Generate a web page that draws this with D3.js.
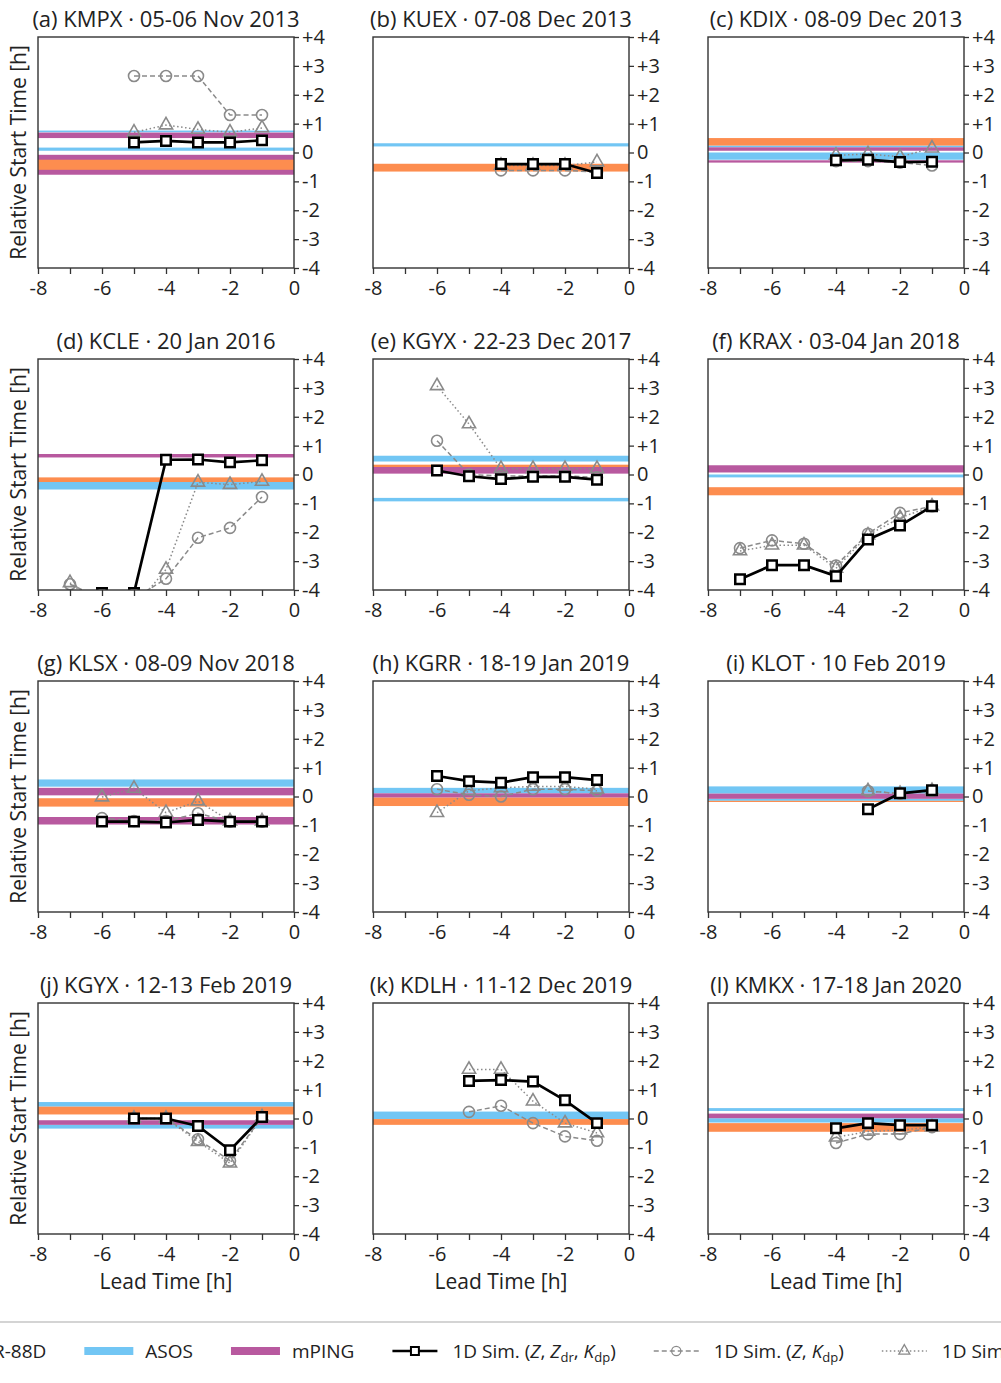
<!DOCTYPE html>
<html>
<head>
<meta charset="utf-8">
<script src="https://cdn.jsdelivr.net/npm/d3@7"></script>
<style>
  body { margin: 0; background: #fff; }
  text { font-family: "Open Sans", "Noto Sans", sans-serif; fill: #222; }
</style>
</head>
<body>
<svg id="chart" width="1001" height="1383"></svg>
<script>
// lead times shared by every panel (hours)
const leadTimes = [-7, -6, -5, -4, -3, -2, -1];

const panelTitles = [
  "(a) KMPX · 05-06 Nov 2013", "(b) KUEX · 07-08 Dec 2013", "(c) KDIX · 08-09 Dec 2013",
  "(d) KCLE · 20 Jan 2016", "(e) KGYX · 22-23 Dec 2017", "(f) KRAX · 03-04 Jan 2018",
  "(g) KLSX · 08-09 Nov 2018", "(h) KGRR · 18-19 Jan 2019", "(i) KLOT · 10 Feb 2019",
  "(j) KGYX · 12-13 Feb 2019", "(k) KDLH · 11-12 Dec 2019", "(l) KMKX · 17-18 Jan 2020"
];

// 1D Sim. (Z, Zdr, Kdp) - black squares
const simZZdrKdp = [
  [null, null, 0.35, 0.40, 0.35, 0.35, 0.42],
  [null, null, null, -0.40, -0.40, -0.40, -0.71],
  [null, null, null, -0.27, -0.25, -0.33, -0.32],
  [-4.6, -4.1, -4.1, 0.51, 0.52, 0.42, 0.49],
  [null, 0.14, -0.06, -0.16, -0.08, -0.08, -0.18],
  [-3.63, -3.14, -3.14, -3.52, -2.25, -1.77, -1.10],
  [null, -0.87, -0.87, -0.90, -0.81, -0.87, -0.87],
  [null, 0.71, 0.53, 0.48, 0.67, 0.67, 0.57],
  [null, null, null, null, -0.44, 0.11, 0.22],
  [null, null, 0.00, 0.00, -0.26, -1.10, 0.05],
  [null, null, 1.30, 1.33, 1.28, 0.63, -0.16],
  [null, null, null, -0.34, -0.16, -0.23, -0.23]
];

// 1D Sim. (Z, Kdp) - grey circles, dashed
const simZKdp = [
  [null, null, 2.65, 2.65, 2.65, 1.30, 1.30],
  [null, null, null, -0.62, -0.62, -0.62, -0.68],
  [null, null, null, -0.30, -0.30, -0.35, -0.45],
  [-3.80, -4.30, -4.30, -3.61, -2.19, -1.85, -0.78],
  [null, 1.17, 0.00, -0.05, -0.05, -0.05, -0.10],
  [-2.55, -2.28, -2.40, -3.15, -2.05, -1.33, -1.10],
  [null, -0.75, -0.85, -0.85, -0.58, -0.87, -0.87],
  [null, 0.25, 0.06, 0.00, 0.25, 0.25, 0.20],
  [null, null, null, null, 0.19, 0.10, 0.20],
  [null, null, 0.00, 0.00, -0.72, -1.46, 0.05],
  [null, null, 0.23, 0.44, -0.16, -0.62, -0.77],
  [null, null, null, -0.85, -0.54, -0.54, -0.30]
];

// 1D Sim. (Z, Zdr) - grey triangles, dotted
const simZZdr = [
  [null, null, 0.70, 0.95, 0.80, 0.70, 0.85],
  [null, null, null, -0.45, -0.45, -0.45, -0.33],
  [null, null, null, -0.10, -0.05, -0.15, 0.15],
  [-3.75, -4.60, -4.60, -3.29, -0.27, -0.35, -0.24],
  [null, 3.07, 1.75, 0.20, 0.20, 0.20, 0.20],
  [-2.65, -2.45, -2.45, -3.25, -2.10, -1.50, -1.10],
  [null, -0.02, 0.28, -0.56, -0.16, -0.85, -0.85],
  [null, -0.56, 0.20, 0.30, 0.35, 0.35, 0.25],
  [null, null, null, null, 0.19, 0.10, 0.20],
  [null, null, 0.00, 0.00, -0.80, -1.55, 0.05],
  [null, null, 1.70, 1.70, 0.60, -0.16, -0.50],
  [null, null, null, -0.65, -0.45, -0.40, -0.30]
];

// observed start-time windows [low, high] per panel
const asosBands = [
  [[0.70, 0.76], [0.06, 0.17]],
  [[0.21, 0.32]],
  [[0.18, 0.24], [-0.25, 0.00]],
  [[-0.52, -0.26]],
  [[0.45, 0.65], [-0.93, -0.81]],
  [[-0.10, 0.00]],
  [[0.34, 0.59]],
  [[0.11, 0.30]],
  [[0.10, 0.35], [-0.15, -0.08]],
  [[0.41, 0.57], [-0.35, -0.22]],
  [[-0.02, 0.24]],
  [[0.26, 0.36], [-0.14, 0.01]]
];
const mpingBands = [
  [[0.50, 0.69], [-0.77, -0.08]],
  [],
  [[0.06, 0.18], [-0.35, -0.27]],
  [[0.59, 0.71]],
  [[0.03, 0.26]],
  [[0.07, 0.32]],
  [[0.04, 0.30], [-0.97, -0.71]],
  [[-0.04, 0.11]],
  [[-0.08, 0.10]],
  [[-0.22, -0.06]],
  [],
  [[0.01, 0.17]]
];
const wsrBands = [
  [[-0.60, -0.25]],
  [[-0.66, -0.39]],
  [[0.24, 0.50]],
  [[-0.26, -0.10]],
  [[0.26, 0.34]],
  [[-0.72, -0.44]],
  [[-0.35, -0.06]],
  [[-0.33, -0.04]],
  [[-0.19, -0.15]],
  [[0.14, 0.41]],
  [[-0.22, -0.02]],
  [[-0.46, -0.16]]
];

const yTicks = [-4, -3, -2, -1, 0, 1, 2, 3, 4];
const xTicks = [-8, -7, -6, -5, -4, -3, -2, -1, 0];

// layout
const plotW = 256, plotH = 231;
const colX = [38, 373, 708];
const rowY = [37, 359, 681, 1003];
const colors = { wsr: "#fd8d4f", asos: "#72c6f4", mping: "#b8599f", grey: "#8a8a8a" };

const svg = d3.select("#chart");
svg.append("rect").attr("width", 1001).attr("height", 1383).attr("fill", "#fff");

const x = d3.scaleLinear().domain([-8, 0]).range([0, plotW]);
const y = d3.scaleLinear().domain([-4, 4]).range([plotH, 0]);

const seriesDefs = [
  { data: simZZdr, color: colors.grey, width: 1.5, dash: "1.5,2.5", symbol: d3.symbolTriangle, size: 75, fill: "none", sw: 1.6 },
  { data: simZKdp, color: colors.grey, width: 1.5, dash: "5,3", symbol: d3.symbolCircle, size: 95, fill: "none", sw: 1.6 },
  { data: simZZdrKdp, color: "#000", width: 2.7, dash: null, symbol: d3.symbolSquare, size: 90, fill: "#fff", sw: 2.5 }
];

panelTitles.forEach((title, i) => {
  const col = i % 3, row = Math.floor(i / 3);
  const g = svg.append("g").attr("transform", `translate(${colX[col]},${rowY[row]})`);

  g.append("clipPath").attr("id", "clip" + i)
    .append("rect").attr("width", plotW).attr("height", plotH);
  const inner = g.append("g").attr("clip-path", `url(#clip${i})`);

  // observation bands
  [[asosBands, colors.asos], [mpingBands, colors.mping], [wsrBands, colors.wsr]].forEach(([bands, c]) => {
    inner.selectAll(null)
      .data(bands[i])
      .enter()
      .append("rect")
      .attr("x", 0)
      .attr("width", plotW)
      .attr("y", d => y(d[1]))
      .attr("height", d => y(d[0]) - y(d[1]))
      .attr("fill", c);
  });

  // simulation series
  seriesDefs.forEach(s => {
    const pts = leadTimes.map((t, k) => ({ t: t, v: s.data[i][k] }));
    const line = d3.line()
      .defined(d => d.v != null)
      .x(d => x(d.t))
      .y(d => y(d.v));
    inner.append("path")
      .attr("d", line(pts))
      .attr("fill", "none")
      .attr("stroke", s.color)
      .attr("stroke-width", s.width)
      .attr("stroke-dasharray", s.dash);
    inner.selectAll(null)
      .data(pts.filter(d => d.v != null))
      .enter()
      .append("path")
      .attr("transform", d => `translate(${x(d.t)},${y(d.v)})`)
      .attr("d", d3.symbol(s.symbol, s.size))
      .attr("fill", s.fill)
      .attr("stroke", s.color)
      .attr("stroke-width", s.sw);
  });

  // axes
  const yAxis = g.append("g")
    .attr("transform", `translate(${plotW},0)`)
    .call(d3.axisRight(y).tickValues(yTicks).tickSize(5).tickPadding(3)
      .tickFormat(d => d > 0 ? "+" + d : String(d)));
  const xAxis = g.append("g")
    .attr("transform", `translate(0,${plotH})`)
    .call(d3.axisBottom(x).tickValues(xTicks).tickSize(6).tickPadding(7)
      .tickFormat(d => d % 2 === 0 ? String(d) : ""));
  [yAxis, xAxis].forEach(a => {
    a.select(".domain").remove();
    a.selectAll("line").attr("stroke", "#333").attr("stroke-width", 1.3);
    a.selectAll("text").attr("font-size", 20).attr("fill", "#222");
  });

  g.append("rect")
    .attr("width", plotW).attr("height", plotH)
    .attr("fill", "none").attr("stroke", "#333").attr("stroke-width", 1.4);

  g.append("text")
    .attr("x", plotW / 2).attr("y", -10)
    .attr("text-anchor", "middle")
    .attr("font-size", 22)
    .text(title);

  if (col === 0) {
    g.append("text")
      .attr("transform", `translate(-12,${plotH / 2}) rotate(-90)`)
      .attr("text-anchor", "middle")
      .attr("font-size", 21)
      .text("Relative Start Time [h]");
  }
  if (row === 3) {
    g.append("text")
      .attr("x", plotW / 2).attr("y", plotH + 55)
      .attr("text-anchor", "middle")
      .attr("font-size", 21)
      .text("Lead Time [h]");
  }
});

// legend (wider than the page, as in the original crop)
svg.append("line")
  .attr("x1", 0).attr("x2", 1001).attr("y1", 1322).attr("y2", 1322)
  .attr("stroke", "#d4d4d4").attr("stroke-width", 2);

const legendItems = [
  { kind: "band", color: colors.wsr, label: [["WSR-88D"]] },
  { kind: "band", color: colors.asos, label: [["ASOS"]] },
  { kind: "band", color: colors.mping, label: [["mPING"]] },
  { kind: "line", s: seriesDefs[2], label: [["1D Sim. ("], ["Z", "i"], [", "], ["Z", "i"], ["dr", "sub"], [", "], ["K", "i"], ["dp", "sub"], [")"]] },
  { kind: "line", s: seriesDefs[1], label: [["1D Sim. ("], ["Z", "i"], [", "], ["K", "i"], ["dp", "sub"], [")"]] },
  { kind: "line", s: seriesDefs[0], label: [["1D Sim. ("], ["Z", "i"], [", "], ["Z", "i"], ["dr", "sub"], [")"]] }
];

const legend = svg.append("g").attr("transform", "translate(0,1351)");
let cursor = -96;
legendItems.forEach(item => {
  const g = legend.append("g").attr("transform", `translate(${cursor},0)`);
  let w;
  if (item.kind === "band") {
    g.append("rect").attr("x", 0).attr("y", -4).attr("width", 49).attr("height", 8).attr("fill", item.color);
    w = 49 + 12;
  } else {
    const s = item.s;
    g.append("line").attr("x1", 0).attr("x2", 45).attr("y1", 0).attr("y2", 0)
      .attr("stroke", s.color).attr("stroke-width", s.width).attr("stroke-dasharray", s.dash);
    g.append("path").attr("transform", "translate(22.5,0)")
      .attr("d", d3.symbol(s.symbol, s.size * 0.7))
      .attr("fill", s.fill).attr("stroke", s.color).attr("stroke-width", s.sw * 0.8);
    w = 45 + 15;
  }
  const t = g.append("text").attr("x", w).attr("y", 7).attr("font-size", 19);
  let sub = false;
  item.label.forEach(([txt, style]) => {
    const sp = t.append("tspan").text(txt);
    if (style === "i") sp.attr("font-style", "italic");
    if (style === "sub") {
      sp.attr("font-size", 13).attr("dy", sub ? 0 : 4);
      sub = true;
    } else if (sub) {
      sp.attr("dy", -4);
      sub = false;
    }
  });
  cursor += w + t.node().getComputedTextLength() + 38;
});
</script>
</body>
</html>
